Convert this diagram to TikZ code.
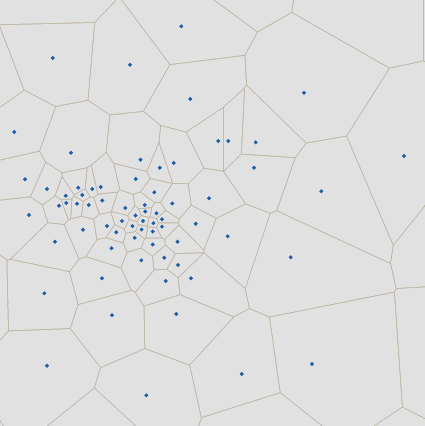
\documentclass[tikz,border=0pt]{standalone}
\usepackage{tikz}
\definecolor{Cell}{HTML}{E1E1E1}
\definecolor{Edge}{HTML}{BDB4A4}
\definecolor{Site}{HTML}{1D5CA6}
% sites in pixel units (y down); the last twelve lie outside the frame
\def\sitelist{52.7/58, 130/64.7, 181.3/26.3, 304/92.7, 190.3/99, 14.3/132,
  218.3/141, 228.3/141, 255.7/142.3, 71/152.7, 404/156, 140.5/159.7,
  159.7/167.7, 173.7/163, 254/167.7, 25/179.3, 135.7/179, 47/189,
  65.7/195.7, 78.2/187.7, 82.3/195, 92.2/189, 100.8/187, 321.3/191.3,
  154.3/192.3, 59/205.7, 66.3/203, 77/203.7, 88.8/205, 102.2/200.5,
  209/198.3, 172.2/203.5, 29/215, 125.3/208, 144.7/205, 145.3/211.5,
  156.5/213.2, 135.5/215.5, 122/221, 143/221, 162/219.2, 153.4/223.2,
  162/226.6, 132.4/226, 141.6/229.5, 152.7/231.5, 107/226, 116.3/232.2,
  83/229.7, 134.7/237.8, 152.7/244.5, 177.5/241.8, 195.7/223.7, 227.7/236.3,
  55/241.7, 111.5/248.2, 141.3/260.3, 164.3/257.7, 178/265, 290.7/257.3,
  102/278.3, 165.7/281, 191/278.3, 44.3/293.3, 176.3/314, 112/315.3,
  47/365.7, 312/364, 241.7/374, 146.3/395.3,
  51/-11, -18.5/85.4, 229/-39, 367/-18, 480/-18, 478/215,
  486/352, 407/507, 259.5/430, -29/295, -70/439, 106/439}
\def\shownsites{70}
\begin{document}
\begin{tikzpicture}[x=1pt,y=-1pt]
  \useasboundingbox (0,0) rectangle (425,426);
  \fill[Edge] (0,0) rectangle (425,426);
  % each cell: the frame cut by every half-plane, pulled back by half a line
  \foreach \ax/\ay [count=\i] in \sitelist {
    \begin{scope}
      \foreach \bx/\by [count=\j] in \sitelist {
        \ifnum\i=\j\else
          \pgfmathsetmacro\len{100*veclen(((\ax)-(\bx))/100,((\ay)-(\by))/100)}
          \pgfmathsetmacro\nx{((\ax)-(\bx))/\len}
          \pgfmathsetmacro\ny{((\ay)-(\by))/\len}
          \pgfmathsetmacro\mx{((\ax)+(\bx))/2+0.5*\nx}
          \pgfmathsetmacro\my{((\ay)+(\by))/2+0.5*\ny}
          \clip ({\mx-3000*(\ny)},{\my+3000*(\nx)}) -- ({\mx+3000*(\ny)},{\my-3000*(\nx)})
            -- ({\mx+3000*(\nx)},{\my+3000*(\ny)}) -- cycle;
        \fi
      }
      \fill[Cell] (0,0) rectangle (425,426);
    \end{scope}
  }
  % sites
  \foreach \ax/\ay [count=\i] in \sitelist {
    \ifnum\i>\shownsites\else
      \fill[Site] (\ax,\ay) +(0,-2.1) -- +(2.1,0) -- +(0,2.1) -- +(-2.1,0) -- cycle;
    \fi
  }
\end{tikzpicture}
\end{document}
